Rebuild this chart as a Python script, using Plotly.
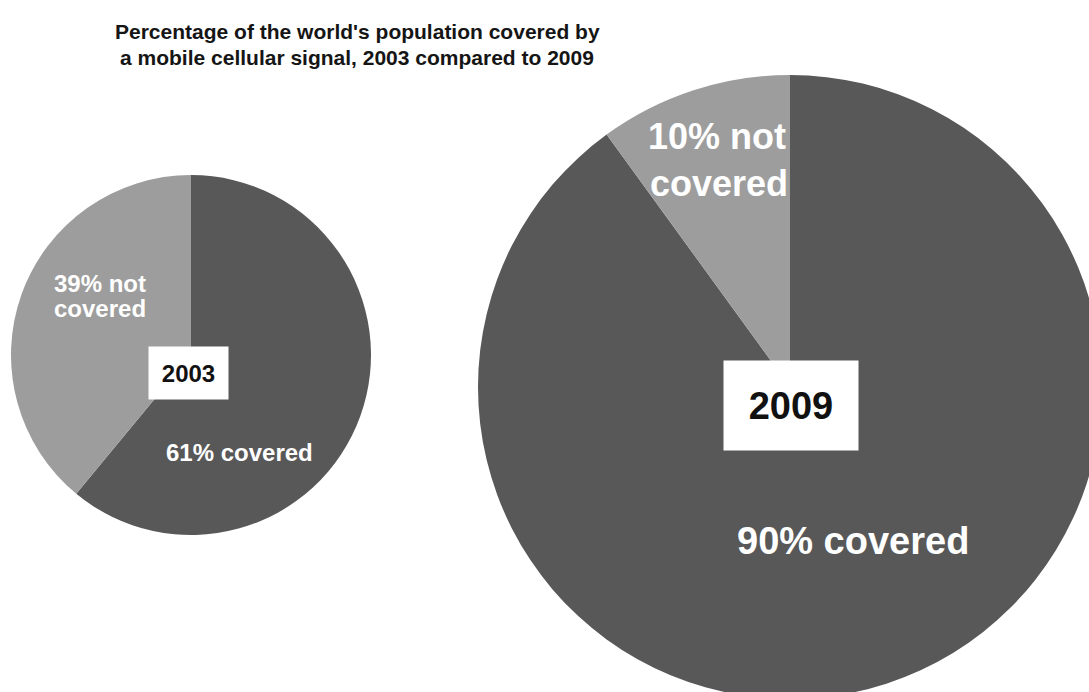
import plotly.graph_objects as go

# ---- data ----
years = ["2003", "2009"]
categories = ["covered", "not covered"]
covered_pct = [61, 90]
not_covered_pct = [39, 10]
slice_colors = ["#585858", "#9d9d9d"]

title_lines = ["Percentage of the world's population covered by",
               "a mobile cellular signal, 2003 compared to 2009"]

# ---- canvas (page is clipped to the 1089x692 window) ----
W, H = 1110, 705


def px(x):
    return x / W


def py(y):
    return 1 - y / H


# pie geometry in pixels: (cx, cy, r)
geo = [(191, 355, 180), (790, 387, 312)]

fig = go.Figure()
for i, yr in enumerate(years):
    cx, cy, r = geo[i]
    fig.add_trace(go.Pie(
        labels=categories,
        values=[covered_pct[i], not_covered_pct[i]],
        name=yr,
        sort=False,
        direction="clockwise",
        rotation=0,
        textinfo="none",
        marker=dict(colors=slice_colors, line=dict(width=0)),
        domain=dict(x=[px(cx - r), px(cx + r)], y=[py(cy + r), py(cy - r)]),
        showlegend=False,
    ))

FONT = "Liberation Sans, Arial, sans-serif"
annotations = []

# title
for j, (line, yc) in enumerate(zip(title_lines, [32, 57])):
    annotations.append(dict(
        text=line, x=px(357), y=py(yc), xref="paper", yref="paper",
        xanchor="center", yanchor="middle", showarrow=False,
        font=dict(family=FONT, size=21, color="#151515", weight="bold")))


def label(text, x, y, size, anchor="center", color="white"):
    annotations.append(dict(
        text=text, x=px(x), y=py(y), xref="paper", yref="paper",
        xanchor=anchor, yanchor="middle", showarrow=False,
        font=dict(family=FONT, size=size, color=color, weight="bold")))


# 2003 labels
label(f"{not_covered_pct[0]}% not", 52, 283, 24, anchor="left")
label("covered", 52, 308, 24, anchor="left")
label(f"{covered_pct[0]}% covered", 239, 452, 24)
# 2009 labels
label(f"{not_covered_pct[1]}% not", 717, 136, 36)
label("covered", 719, 183, 36)
label(f"{covered_pct[1]}% covered", 853, 541, 38)

# year boxes
boxes = [(188, 373, 79, 52, 24), (791, 405, 134, 89, 38)]
for yr, (bx, by, bw, bh, fs) in zip(years, boxes):
    annotations.append(dict(
        text=yr, x=px(bx), y=py(by), xref="paper", yref="paper",
        xanchor="center", yanchor="middle", showarrow=False,
        width=bw, height=bh, bgcolor="white", borderpad=0,
        font=dict(family=FONT, size=fs, color="#111111", weight="bold")))

fig.update_layout(
    width=W, height=H,
    margin=dict(l=0, r=0, t=0, b=0),
    paper_bgcolor="white", plot_bgcolor="white",
    annotations=annotations,
)

fig.write_html(
    "out.html",
    config={"displayModeBar": False, "responsive": False},
    post_script=("document.documentElement.style.overflow='hidden';"
                 "document.body.style.overflow='hidden';"
                 "document.body.style.margin='0';"),
)
